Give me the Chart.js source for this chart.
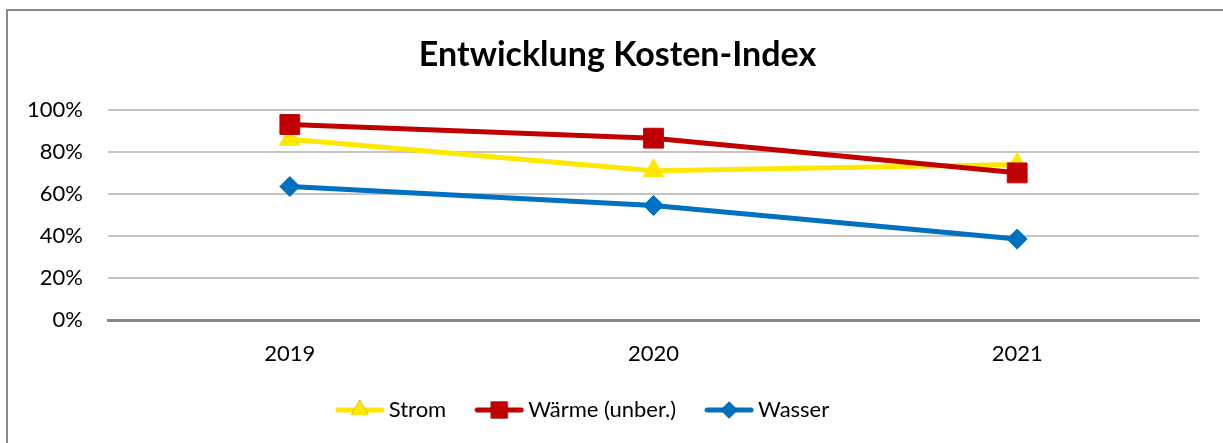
<!DOCTYPE html>
<html>
<head>
<meta charset="utf-8">
<script src="https://cdn.jsdelivr.net/npm/chart.js@4"></script>
<style>
  html, body { margin: 0; padding: 0; background: #fff; overflow: hidden; }
  #frame { position: absolute; left: 6px; top: 9px; width: 1400px; height: 600px; border: 2px solid #8c8c8c; }
  #wrap { position: absolute; left: 0; top: 0; width: 1223px; height: 443px; }
</style>
</head>
<body>
<div id="frame"></div>
<div id="wrap"><canvas id="chart1"></canvas></div>
<script>
const years = ['2019', '2020', '2021'];
const strom = [86, 71, 74];
const waerme = [93, 86.5, 70];
const wasser = [63.5, 54.5, 38.5];
const seriesNames = ['Strom', 'Wärme (unber.)', 'Wasser'];
const seriesColors = ['#FFE800', '#C00000', '#0070C0'];
const seriesMarkers = ['triangle', 'rect', 'rectRot'];
const markerSizes = [12, 14, 10];

// little line + marker pictures for the legend, like in Excel
function legendIcon(color, marker, r) {
  const c = document.createElement('canvas');
  c.width = 50;
  c.height = 24;
  const g = c.getContext('2d');
  g.strokeStyle = color;
  g.lineWidth = 5;
  g.lineCap = 'round';
  g.beginPath();
  g.moveTo(3, 12);
  g.lineTo(47, 12);
  g.stroke();
  Chart.helpers.drawPoint(g, {pointStyle: marker, radius: r * 0.85, borderWidth: 0}, 25, 12);
  g.fillStyle = color;
  g.fill();
  return c;
}

// Excel puts the title a bit right and the legend a bit left of center
const nudge = {
  id: 'nudge',
  afterLayout(chart) {
    chart.titleBlock.left += 36;
    chart.legend.left -= 14;
    chart.legend.right -= 14;
  }
};

const font = 'Lato';
const ctx = document.getElementById('chart1');

new Chart(ctx, {
  type: 'line',
  data: {
    labels: years,
    datasets: [strom, waerme, wasser].map((vals, i) => ({
      label: seriesNames[i],
      data: vals,
      borderColor: seriesColors[i],
      backgroundColor: seriesColors[i],
      borderWidth: 5,
      tension: 0,
      pointStyle: seriesMarkers[i],
      pointRadius: markerSizes[i],
      pointHoverRadius: markerSizes[i],
      pointBorderWidth: 1,
      order: i == 0 ? 1 : 0
    }))
  },
  options: {
    responsive: true,
    maintainAspectRatio: false,
    animation: false,
    layout: { padding: { left: 0, right: 24, top: 0, bottom: 12 } },
    plugins: {
      title: {
        display: true,
        text: 'Entwicklung Kosten-Index',
        color: '#000',
        font: { family: font, size: 34, weight: 'bold' },
        padding: { top: 35, bottom: 34 }
      },
      legend: {
        position: 'bottom',
        labels: {
          color: '#000',
          font: { family: font, size: 22 },
          usePointStyle: true,
          pointStyleWidth: 36,
          padding: 35,
          generateLabels: chart => chart.data.datasets.map((ds, i) => ({
            text: ds.label,
            pointStyle: legendIcon(seriesColors[i], seriesMarkers[i], markerSizes[i]),
            fillStyle: seriesColors[i],
            strokeStyle: seriesColors[i],
            lineWidth: 0,
            fontColor: '#000',
            datasetIndex: i
          }))
        }
      },
      tooltip: { enabled: false }
    },
    scales: {
      x: {
        offset: true,
        grid: { display: false, drawTicks: false, offset: true },
        border: { display: true, color: '#878787', width: 3 },
        ticks: { color: '#000', font: { family: font, size: 22 }, padding: 21 },
        afterFit: scale => { scale.height = 44; }
      },
      y: {
        min: 0,
        max: 100,
        grid: { color: '#c4c4c4', lineWidth: 2, drawTicks: false },
        border: { display: false },
        ticks: {
          stepSize: 20,
          color: '#000',
          font: { family: font, size: 22 },
          padding: 25,
          callback: v => v + '%'
        },
        afterFit: scale => { scale.width = 108; }
      }
    }
  },
  plugins: [nudge]
});
</script>
</body>
</html>
